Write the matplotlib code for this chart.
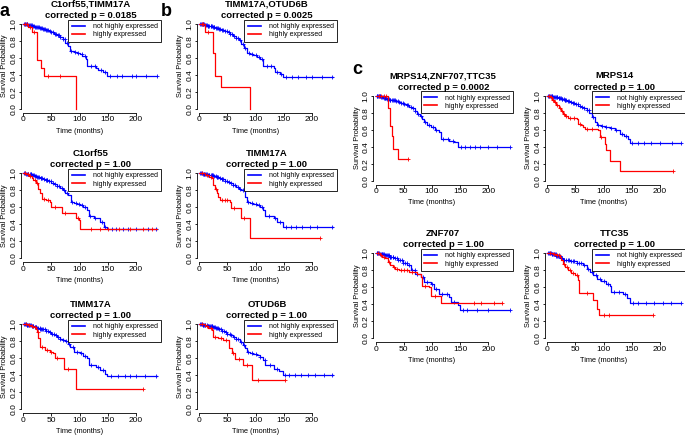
import numpy as np
import matplotlib
matplotlib.use("Agg")
import matplotlib.pyplot as plt
from matplotlib.lines import Line2D

plt.rcParams['font.family'] = ['Liberation Sans', 'DejaVu Sans']

W, H = 685, 436
BLUE = '#0000ff'
RED = '#ff0000'

# survival curves: time in months, survival probability
# panel a, top
a1_title = 'C1orf55,TIMM17A'
a1_p = '0.0185'
a1_blue_t = [0, 4, 8, 12, 16, 20, 25, 30, 35, 40, 45, 50, 55, 60, 65, 70, 75, 80, 83, 90, 95, 100, 105, 111, 114, 130, 133, 142, 148, 237]
a1_blue_s = [1.0, 0.995, 0.99, 0.985, 0.978, 0.97, 0.96, 0.95, 0.94, 0.93, 0.915, 0.90, 0.885, 0.87, 0.85, 0.82, 0.78, 0.74, 0.68, 0.665, 0.655, 0.645, 0.625, 0.585, 0.50, 0.48, 0.46, 0.43, 0.385, 0.385]
a1_blue_c = [2, 3, 4, 6, 7, 9, 11, 12, 13, 15, 17, 19, 21, 22, 24, 26, 28, 30, 31, 33, 35, 36, 38, 41, 43, 44, 47, 50, 53, 56, 59, 62, 64, 66, 70, 74, 78, 85, 92, 98, 104, 109, 120, 127, 138, 145, 155, 166, 175, 193, 201, 219, 237]
a1_red_t = [0, 9, 15, 25, 31, 36, 93]
a1_red_s = [1.0, 0.97, 0.90, 0.58, 0.48, 0.39, 0.0]
a1_red_c = [3, 6, 12, 19, 44, 66]

# panel a, middle
a2_title = 'C1orf55'
a2_p = '1.00'
a2_blue_t = [0, 5, 10, 15, 20, 25, 30, 35, 40, 45, 50, 55, 60, 65, 70, 75, 80, 84, 90, 96, 100, 106, 113, 116, 125, 136, 143, 148, 237]
a2_blue_s = [1.0, 0.995, 0.99, 0.98, 0.97, 0.96, 0.95, 0.935, 0.92, 0.905, 0.89, 0.87, 0.85, 0.83, 0.80, 0.77, 0.74, 0.667, 0.655, 0.64, 0.627, 0.60, 0.569, 0.498, 0.47, 0.43, 0.365, 0.345, 0.345]
a2_blue_c = [2, 3, 5, 7, 8, 9, 12, 13, 14, 16, 18, 19, 21, 23, 25, 26, 28, 31, 32, 34, 37, 40, 42, 43, 46, 49, 52, 56, 60, 64, 68, 72, 77, 86, 93, 99, 105, 110, 118, 128, 140, 146, 158, 165, 178, 187, 200, 222, 236]
a2_red_t = [0, 5, 10, 15, 18, 22, 27, 30, 33, 40, 47, 50, 68, 94, 99, 101, 237]
a2_red_s = [1.0, 0.99, 0.97, 0.95, 0.92, 0.88, 0.82, 0.765, 0.694, 0.68, 0.667, 0.608, 0.537, 0.47, 0.45, 0.345, 0.345]
a2_red_c = [3, 8, 12, 20, 25, 36, 44, 56, 75, 97, 120, 137, 150, 170, 190, 212, 228]

# panel a, bottom
a3_title = 'TIMM17A'
a3_p = '1.00'
a3_blue_t = [0, 5, 10, 15, 20, 25, 30, 35, 40, 45, 50, 55, 60, 65, 70, 75, 80, 83, 90, 100, 106, 113, 116, 130, 136, 145, 148, 237]
a3_blue_s = [1.0, 0.995, 0.99, 0.98, 0.97, 0.96, 0.95, 0.94, 0.925, 0.905, 0.89, 0.87, 0.85, 0.83, 0.815, 0.80, 0.77, 0.736, 0.68, 0.657, 0.63, 0.60, 0.52, 0.50, 0.46, 0.42, 0.39, 0.39]
a3_blue_c = [2, 3, 4, 6, 7, 9, 11, 12, 14, 16, 17, 18, 20, 22, 23, 25, 27, 29, 30, 32, 34, 35, 38, 41, 44, 47, 51, 54, 58, 62, 66, 71, 76, 82, 88, 96, 103, 110, 121, 133, 142, 156, 168, 180, 190, 200, 216, 236]
a3_red_t = [0, 8, 14, 18, 22, 24, 27, 30, 38.5, 47, 53, 56, 73, 94, 213]
a3_red_s = [1.0, 0.99, 0.98, 0.97, 0.94, 0.91, 0.835, 0.736, 0.697, 0.677, 0.657, 0.60, 0.48, 0.236, 0.236]
a3_red_c = [4, 10, 16, 20, 26, 33, 42, 50, 60, 80, 213]

# panel b, top
b1_title = 'TIMM17A,OTUD6B'
b1_p = '0.0025'
b1_blue_t = [0, 5, 10, 15, 20, 25, 30, 35, 40, 45, 50, 55, 60, 65, 70, 75, 80, 84, 90, 96, 102, 108, 114, 132, 135, 143, 148, 237]
b1_blue_s = [1.0, 0.995, 0.99, 0.98, 0.975, 0.965, 0.955, 0.945, 0.93, 0.915, 0.90, 0.88, 0.86, 0.84, 0.81, 0.77, 0.72, 0.66, 0.645, 0.63, 0.615, 0.59, 0.50, 0.478, 0.44, 0.41, 0.38, 0.38]
b1_blue_c = [2, 3, 5, 6, 7, 9, 10, 12, 14, 15, 16, 18, 20, 21, 23, 25, 26, 27, 30, 32, 33, 35, 37, 40, 43, 46, 49, 52, 55, 58, 61, 65, 69, 73, 77, 82, 88, 94, 100, 106, 112, 120, 128, 139, 146, 154, 164, 176, 190, 200, 218, 236]
b1_red_t = [0, 10, 25, 28, 38.5, 91]
b1_red_s = [1.0, 0.91, 0.655, 0.39, 0.263, 0.0]
b1_red_c = [4, 7, 15]

# panel b, middle
b2_title = 'TIMM17A'
b2_p = '1.00'
b2_blue_t = [0, 5, 10, 15, 20, 25, 30, 35, 40, 45, 50, 55, 60, 65, 70, 75, 81, 84, 90, 96, 102, 108, 114, 117, 132, 138, 148, 237]
b2_blue_s = [1.0, 0.995, 0.99, 0.98, 0.975, 0.965, 0.955, 0.945, 0.93, 0.915, 0.90, 0.88, 0.86, 0.84, 0.815, 0.80, 0.725, 0.667, 0.655, 0.64, 0.627, 0.60, 0.569, 0.498, 0.47, 0.43, 0.373, 0.373]
b2_blue_c = [2, 3, 4, 6, 8, 9, 11, 12, 13, 15, 17, 18, 20, 22, 23, 24, 27, 29, 31, 32, 34, 37, 40, 41, 43, 46, 49, 52, 56, 60, 64, 68, 72, 78, 86, 93, 100, 106, 112, 124, 135, 143, 155, 163, 172, 183, 196, 210, 236]
b2_red_t = [0, 10, 18, 22, 25, 28, 31, 34, 37, 55, 56, 74, 91, 215]
b2_red_s = [1.0, 0.98, 0.96, 0.94, 0.863, 0.81, 0.765, 0.72, 0.686, 0.667, 0.588, 0.47, 0.24, 0.24]
b2_red_c = [5, 14, 20, 30, 40, 45, 50, 62, 80, 215]

# panel b, bottom
b3_title = 'OTUD6B'
b3_p = '1.00'
b3_blue_t = [0, 5, 10, 15, 20, 25, 30, 35, 40, 45, 50, 55, 60, 65, 72, 77, 81, 84, 90, 96, 102, 108, 114, 117, 132, 141, 148, 237]
b3_blue_s = [1.0, 0.995, 0.99, 0.98, 0.975, 0.965, 0.955, 0.94, 0.925, 0.91, 0.89, 0.87, 0.85, 0.83, 0.795, 0.76, 0.717, 0.677, 0.665, 0.65, 0.638, 0.61, 0.579, 0.52, 0.48, 0.45, 0.40, 0.40]
b3_blue_c = [2, 3, 4, 6, 7, 9, 10, 11, 13, 15, 16, 18, 19, 20, 22, 23, 25, 27, 28, 30, 32, 33, 35, 38, 41, 44, 47, 50, 54, 57, 61, 65, 69, 74, 80, 87, 94, 101, 108, 116, 126, 138, 152, 160, 170, 180, 194, 206, 222, 236]
b3_red_t = [0, 10, 16, 22, 25, 34, 43, 52, 57.5, 63.5, 78, 93, 152]
b3_red_s = [1.0, 0.98, 0.96, 0.93, 0.854, 0.835, 0.815, 0.717, 0.657, 0.59, 0.52, 0.343, 0.343]
b3_red_c = [5, 13, 20, 28, 38, 47, 60, 70, 85, 105, 152]

# panel c, top left
c1_title = 'MRPS14,ZNF707,TTC35'
c1_p = '0.0002'
c1_blue_t = [0, 5, 10, 15, 20, 25, 30, 35, 40, 45, 50, 55, 60, 65, 70, 74, 78, 82, 86, 92, 98, 105, 113, 116, 130, 140, 146, 238]
c1_blue_s = [1.0, 0.995, 0.985, 0.975, 0.965, 0.955, 0.945, 0.935, 0.925, 0.91, 0.90, 0.89, 0.87, 0.85, 0.82, 0.79, 0.76, 0.72, 0.69, 0.66, 0.63, 0.60, 0.57, 0.49, 0.47, 0.45, 0.395, 0.395]
c1_blue_c = [2, 3, 4, 6, 7, 8, 10, 11, 13, 15, 16, 17, 19, 20, 22, 24, 25, 26, 29, 31, 32, 34, 36, 39, 42, 45, 48, 51, 55, 58, 62, 66, 70, 75, 80, 88, 95, 102, 108, 120, 128, 137, 152, 158, 168, 176, 186, 200, 215, 238]
c1_red_t = [0, 22, 26, 29, 31, 39, 57]
c1_red_s = [1.0, 0.86, 0.64, 0.52, 0.375, 0.25, 0.25]
c1_red_c = [6, 10, 14, 18, 57]

# panel c, top right
c2_title = 'MRPS14'
c2_p = '1.00'
c2_blue_t = [0, 5, 10, 15, 20, 25, 30, 35, 40, 45, 50, 55, 60, 65, 70, 75, 79, 85, 88, 95, 103, 111, 120, 129, 137, 144, 147, 238]
c2_blue_s = [1.0, 0.995, 0.99, 0.98, 0.97, 0.96, 0.95, 0.94, 0.93, 0.915, 0.90, 0.88, 0.865, 0.85, 0.83, 0.80, 0.75, 0.69, 0.655, 0.645, 0.635, 0.625, 0.60, 0.55, 0.52, 0.49, 0.445, 0.445]
c2_blue_c = [2, 3, 4, 6, 8, 9, 11, 12, 13, 15, 17, 18, 20, 21, 22, 24, 26, 27, 29, 31, 32, 34, 36, 39, 42, 45, 48, 51, 54, 58, 62, 66, 70, 74, 82, 90, 97, 105, 114, 122, 132, 140, 150, 162, 172, 185, 200, 222, 238]
c2_red_t = [0, 4, 8, 12, 16, 20, 24, 28, 32, 36, 44, 52, 55, 60, 64, 67, 90, 93, 102, 105, 111, 129, 224]
c2_red_s = [1.0, 0.98, 0.95, 0.92, 0.89, 0.86, 0.82, 0.79, 0.76, 0.74, 0.735, 0.73, 0.67, 0.65, 0.63, 0.61, 0.60, 0.51, 0.435, 0.356, 0.237, 0.119, 0.119]
c2_red_c = [3, 7, 10, 14, 18, 22, 26, 30, 34, 40, 48, 58, 70, 80, 95, 224]

# panel c, bottom left
c3_title = 'ZNF707'
c3_p = '1.00'
c3_blue_t = [0, 8, 16, 24, 32, 40, 48, 56, 62, 70, 80, 86, 98, 104, 113, 131, 134, 146, 149, 238]
c3_blue_s = [1.0, 0.99, 0.975, 0.96, 0.94, 0.92, 0.89, 0.86, 0.80, 0.76, 0.72, 0.66, 0.64, 0.585, 0.52, 0.49, 0.43, 0.395, 0.336, 0.336]
c3_blue_c = [2, 3, 4, 6, 8, 9, 11, 12, 13, 15, 16, 18, 20, 21, 23, 25, 26, 28, 30, 31, 34, 37, 40, 43, 46, 49, 52, 55, 59, 64, 69, 74, 84, 92, 100, 108, 118, 126, 140, 155, 162, 180, 200, 238]
c3_red_t = [0, 8, 12, 17, 21, 26, 30, 35, 41, 59, 74, 80, 83, 95, 98, 116, 224]
c3_red_s = [1.0, 0.98, 0.96, 0.94, 0.90, 0.86, 0.84, 0.82, 0.80, 0.78, 0.76, 0.72, 0.62, 0.60, 0.50, 0.41, 0.41]
c3_red_c = [4, 10, 15, 24, 33, 38, 45, 50, 55, 65, 88, 105, 175, 188, 210, 224]

# panel c, bottom right
c4_title = 'TTC35'
c4_p = '1.00'
c4_blue_t = [0, 8, 16, 24, 28, 40, 52, 64, 70, 76, 82, 88, 96, 105, 111, 114, 135, 141, 147, 238]
c4_blue_s = [1.0, 0.99, 0.97, 0.95, 0.92, 0.905, 0.89, 0.86, 0.82, 0.78, 0.74, 0.70, 0.67, 0.64, 0.62, 0.545, 0.52, 0.47, 0.41, 0.41]
c4_blue_c = [2, 3, 4, 6, 8, 9, 11, 12, 14, 15, 16, 18, 19, 21, 22, 24, 25, 27, 29, 30, 33, 36, 39, 42, 45, 48, 52, 56, 60, 66, 72, 79, 86, 94, 100, 108, 118, 128, 138, 152, 162, 176, 190, 205, 220, 238]
c4_red_t = [0, 10, 16, 22, 25, 28, 32, 37, 43, 49, 55, 57, 82, 88, 92, 188]
c4_red_s = [1.0, 0.99, 0.98, 0.96, 0.92, 0.88, 0.84, 0.80, 0.77, 0.743, 0.684, 0.538, 0.447, 0.348, 0.27, 0.27]
c4_red_c = [5, 12, 18, 20, 30, 35, 40, 45, 52, 70, 100, 110, 188]

x_ticks = [0, 50, 100, 150, 200]
y_ticks = [0.0, 0.2, 0.4, 0.6, 0.8, 1.0]
legend_labels = ['not highly expressed', 'highly expressed']

# where each panel sits: pixel position of (0 months, 1.0 survival)
panels = [
    (a1_title, a1_p, a1_blue_t, a1_blue_s, a1_blue_c, a1_red_t, a1_red_s, a1_red_c, 23.3, 24.0),
    (a2_title, a2_p, a2_blue_t, a2_blue_s, a2_blue_c, a2_red_t, a2_red_s, a2_red_c, 23.3, 173.3),
    (a3_title, a3_p, a3_blue_t, a3_blue_s, a3_blue_c, a3_red_t, a3_red_s, a3_red_c, 23.3, 324.3),
    (b1_title, b1_p, b1_blue_t, b1_blue_s, b1_blue_c, b1_red_t, b1_red_s, b1_red_c, 199.3, 24.0),
    (b2_title, b2_p, b2_blue_t, b2_blue_s, b2_blue_c, b2_red_t, b2_red_s, b2_red_c, 199.3, 173.3),
    (b3_title, b3_p, b3_blue_t, b3_blue_s, b3_blue_c, b3_red_t, b3_red_s, b3_red_c, 199.3, 324.3),
    (c1_title, c1_p, c1_blue_t, c1_blue_s, c1_blue_c, c1_red_t, c1_red_s, c1_red_c, 375.7, 95.7),
    (c2_title, c2_p, c2_blue_t, c2_blue_s, c2_blue_c, c2_red_t, c2_red_s, c2_red_c, 547.3, 95.7),
    (c3_title, c3_p, c3_blue_t, c3_blue_s, c3_blue_c, c3_red_t, c3_red_s, c3_red_c, 375.7, 253.3),
    (c4_title, c4_p, c4_blue_t, c4_blue_s, c4_blue_c, c4_red_t, c4_red_s, c4_red_c, 547.3, 253.3),
]

KX = 0.5625  # px per month
KY = 85.0    # px per unit survival


def px(x, y):
    return x / W, 1 - y / H


def surv_at(t, s, c):
    idx = np.searchsorted(np.array(t, float), np.array(c, float), side='right') - 1
    return np.array(s)[idx]


def km(ax, t, s, c, color):
    ax.step(t, s, where='post', color=color, lw=0.9)
    ax.plot(c, surv_at(t, s, c), ls='none', marker='+', ms=3.5, mew=0.6, color=color)


fig = plt.figure(figsize=(W / 100, H / 100), dpi=100)

for (title, p, bt, bs, bc, rt, rs, rc, x0, y1) in panels:
    left, right = x0 - 2.6, x0 + 137.7
    top, bottom = y1 - 4.3, y1 + 89.0
    ax = fig.add_axes([left / W, 1 - bottom / H, (right - left) / W, (bottom - top) / H])
    ax.set_xlim(-2.6 / KX, 137.7 / KX)
    ax.set_ylim(-4.0 / KY, 1 + 4.3 / KY)

    km(ax, bt, bs, bc, BLUE)
    km(ax, rt, rs, rc, RED)

    for side in ['top', 'right']:
        ax.spines[side].set_visible(False)
    for side in ['left', 'bottom']:
        ax.spines[side].set_linewidth(0.6)
    ax.spines['bottom'].set_bounds(0, 200)
    ax.spines['left'].set_bounds(0, 1)
    ax.set_xticks(x_ticks)
    ax.set_yticks(y_ticks)
    ax.set_xticklabels([str(v) for v in x_ticks])
    ax.set_yticklabels(['%.1f' % v for v in y_ticks], rotation=90, va='center')
    ax.tick_params(length=1.8, width=0.6, labelsize=6, pad=0.6)

    handles = [Line2D([], [], color=BLUE, lw=1.2), Line2D([], [], color=RED, lw=1.2)]
    leg = ax.legend(handles, legend_labels, loc='upper right', bbox_to_anchor=(1, 1),
                    borderaxespad=0, fontsize=5, fancybox=False, framealpha=1,
                    edgecolor='black', handlelength=1.9, handletextpad=1.1,
                    borderpad=0.5, labelspacing=0.15)
    leg.get_frame().set_linewidth(0.6)

    cx = (left + right) / 2
    fig.text(*px(cx, y1 - 20), title, ha='center', va='center', fontsize=6.8, fontweight='bold')
    fig.text(*px(cx, y1 - 8.7), 'corrected p = ' + p, ha='center', va='center',
             fontsize=6.8, fontweight='bold')
    fig.text(*px(x0 + 56, y1 + 107), 'Time (months)', ha='center', va='center', fontsize=5.3)
    fig.text(*px(x0 - 18.5, y1 + 42), 'Survival Probability', ha='center', va='center',
             fontsize=5.3, rotation=90)

fig.text(*px(4.5, 12), 'a', ha='center', va='center', fontsize=13, fontweight='bold')
fig.text(*px(166.7, 11), 'b', ha='center', va='center', fontsize=13, fontweight='bold')
fig.text(*px(357.5, 69), 'c', ha='center', va='center', fontsize=13, fontweight='bold')

fig.savefig('out.png', dpi=100, facecolor='white')
